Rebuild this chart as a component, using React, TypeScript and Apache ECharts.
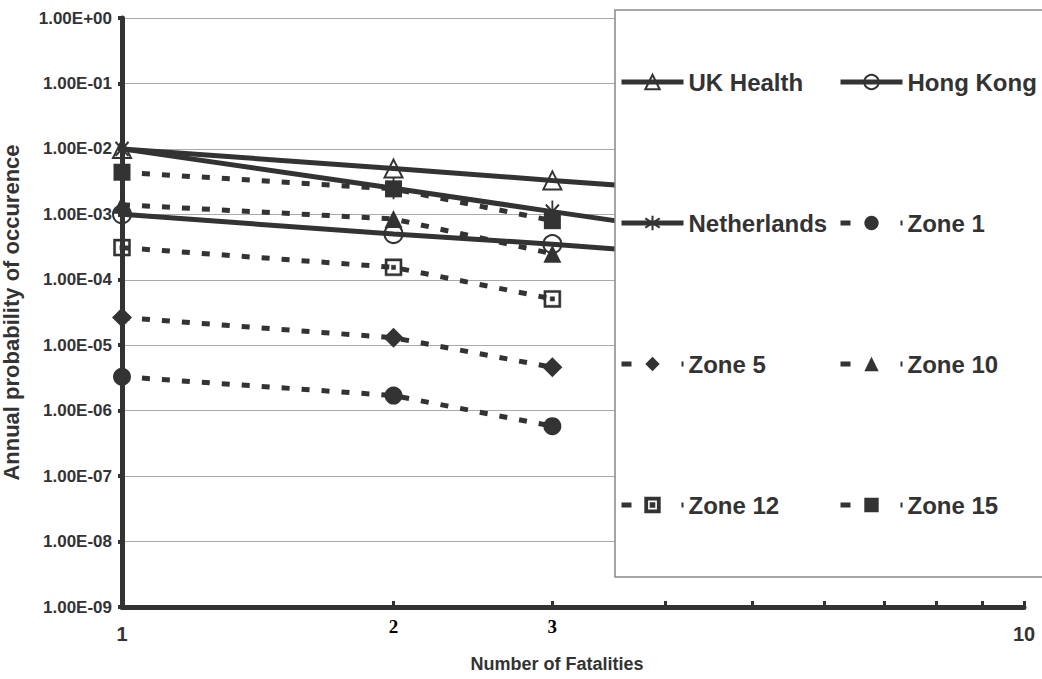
import React, { useEffect, useRef } from "react";
import * as echarts from "echarts";

// ---- data ----
const zoneX = [1, 2, 3];
const criteriaX = [1, 2, 3, 10];
const ukHealth = [1e-2, 5e-3, 3.3e-3, 1e-3];
const hongKong = [1e-3, 5e-4, 3.5e-4, 1e-4];
const netherlands = [1e-2, 2.5e-3, 1.1e-3, 1e-4];
const zone1 = [3.3e-6, 1.7e-6, 5.8e-7];
const zone5 = [2.65e-5, 1.3e-5, 4.6e-6];
const zone10 = [1.4e-3, 8.5e-4, 2.5e-4];
const zone12 = [3.1e-4, 1.55e-4, 5.1e-5];
const zone15 = [4.4e-3, 2.45e-3, 8e-4];
const xLabelValues = [1, 2, 3, 10];
const xTickValues = [2, 3, 4, 5, 6, 7, 8, 9, 10];

const INK = "#333";
const FONT = "'Liberation Sans', Arial, sans-serif";
const SERIF = "'Liberation Serif', 'Times New Roman', serif";

const asteriskPath = "path://M10,0 L10,22 M2,4 L18,18 M2,18 L18,4";
const boxDotPath =
  "path://M0,0 H16 V16 H0 Z M2,2 V14 H14 V2 Z M6,6 H10 V10 H6 Z";

function fmtExp(v: number) {
  const e = Math.round(Math.log10(v));
  return "1.00E" + (e >= 0 ? "+" : "-") + String(Math.abs(e)).padStart(2, "0");
}

function pairs(xs: number[], ys: number[], hideLast = false) {
  return ys.map((y, i) =>
    hideLast && i === ys.length - 1
      ? { value: [xs[i], y], symbol: "none" }
      : { value: [xs[i], y] }
  );
}

export default function App() {
  const ref = useRef<HTMLDivElement>(null);
  useEffect(() => {
    document.body.style.margin = "0";
    const chart = echarts.init(ref.current!, null, { renderer: "svg" });
    const solid = (name: string, ys: number[], symbol: string, size: any, open: boolean) => ({
      name,
      type: "line",
      data: pairs(criteriaX, ys, true),
      symbol,
      symbolSize: size,
      symbolKeepAspect: true,
      lineStyle: { color: INK, width: 5, type: "solid" },
      itemStyle: open
        ? { color: "rgba(0,0,0,0)", borderColor: INK, borderWidth: 2 }
        : { color: INK },
      z: 3,
    });
    const dotted = (name: string, ys: number[], symbol: string, size: any, itemStyle: any) => ({
      name,
      type: "line",
      data: pairs(zoneX, ys),
      symbol,
      symbolSize: size,
      symbolKeepAspect: true,
      lineStyle: { color: INK, width: 5, type: [8, 12] },
      itemStyle,
      z: 2,
    });
    const legendText = { fontFamily: FONT, fontWeight: "bold", fontSize: 24, color: INK };
    const solidLegend = (name: string) => ({ name, lineStyle: { width: 5, color: INK, type: "solid" } });
    const dotLegend = (name: string) => ({ name, lineStyle: { width: 5, color: INK, type: [10, 50] } });
    const legendCommon = {
      orient: "vertical",
      itemWidth: 62,
      itemHeight: 18,
      itemGap: 117,
      padding: 0,
      top: 70,
      selectedMode: false,
      textStyle: legendText,
      z: 20,
    };

    chart.setOption({
      animation: false,
      backgroundColor: "#fff",
      grid: { left: 122, right: 18, top: 18, bottom: 72, containLabel: false, outerBoundsMode: "none" },
      xAxis: {
        type: "log",
        logBase: 10,
        min: 1,
        max: 10,
        name: "Number of Fatalities",
        nameLocation: "middle",
        nameGap: 48,
        nameTextStyle: {
          fontFamily: FONT,
          fontWeight: "bold",
          fontSize: 18,
          color: INK,
          padding: [0, 32, 0, 0],
        },
        axisLine: { lineStyle: { color: INK, width: 5 } },
        axisTick: {
          show: true,
          inside: true,
          length: 6,
          lineStyle: { color: INK, width: 3 },
          customValues: xTickValues,
        },
        axisLabel: {
          customValues: xLabelValues,
          margin: 10,
          fontFamily: FONT,
          fontWeight: "bold",
          fontSize: 20,
          color: INK,
          formatter: (v: number) =>
            v === 2 || v === 3 ? "{s|" + v + "}" : "{a|" + v + "}",
          rich: {
            a: { fontFamily: FONT, fontWeight: "bold", fontSize: 20, color: INK, padding: [7, 0, 0, 0] },
            s: { fontFamily: SERIF, fontWeight: "bold", fontSize: 19, color: "#000" },
          },
        },
        splitLine: { show: false },
      },
      yAxis: {
        type: "log",
        logBase: 10,
        min: 1e-9,
        max: 1,
        splitNumber: 9,
        name: "Annual probability of occurence",
        nameLocation: "middle",
        nameGap: 100,
        nameTextStyle: { fontFamily: FONT, fontWeight: "bold", fontSize: 22, color: INK },
        axisLine: { lineStyle: { color: INK, width: 5 } },
        axisTick: { show: true, length: 4, lineStyle: { color: INK, width: 4 } },
        axisLabel: {
          formatter: fmtExp,
          margin: 10,
          fontFamily: FONT,
          fontWeight: "bold",
          fontSize: 17,
          color: INK,
        },
        splitLine: { show: true, lineStyle: { color: "#aaa", width: 1 } },
      },
      legend: [
        {
          ...legendCommon,
          left: 619,
          data: [solidLegend("UK Health"), solidLegend("Netherlands"), dotLegend("Zone 5"), dotLegend("Zone 12")],
        },
        {
          ...legendCommon,
          left: 838,
          data: [solidLegend("Hong Kong"), dotLegend("Zone 1"), dotLegend("Zone 10"), dotLegend("Zone 15")],
        },
      ],
      graphic: [
        {
          type: "rect",
          z: 10,
          shape: { x: 615, y: 10, width: 440, height: 567 },
          style: { fill: "#fff", stroke: "#888", lineWidth: 1.5 },
        },
      ],
      series: [
        solid("UK Health", ukHealth, "triangle", 18, true),
        solid("Hong Kong", hongKong, "circle", 18, true),
        solid("Netherlands", netherlands, asteriskPath, [18, 22], true),
        dotted("Zone 1", zone1, "circle", 18, { color: INK }),
        dotted("Zone 5", zone5, "diamond", 20, { color: INK }),
        dotted("Zone 10", zone10, "triangle", 18, { color: INK }),
        dotted("Zone 12", zone12, boxDotPath, 17, { color: INK, borderColor: INK, borderWidth: 0.5 }),
        dotted("Zone 15", zone15, "rect", 17, { color: INK }),
      ],
    });
    return () => chart.dispose();
  }, []);
  return (
    <div
      ref={ref}
      style={{ position: "fixed", left: 0, top: 0, width: 1042, height: 679, background: "#fff" }}
    />
  );
}
